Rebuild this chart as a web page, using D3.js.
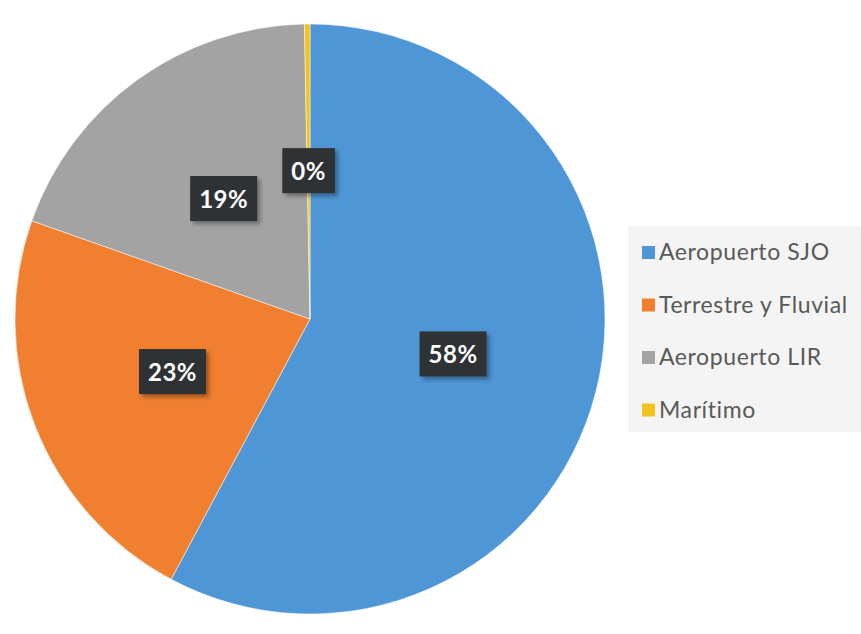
<!DOCTYPE html>
<html><head><meta charset="utf-8">
<script src="https://cdn.jsdelivr.net/npm/d3@7"></script>
<style>body{margin:0;background:#fff;}svg{display:block;}</style>
</head><body>
<svg id="c" width="861" height="634"></svg>
<script>
const categories = ["Aeropuerto SJO", "Terrestre y Fluvial", "Aeropuerto LIR", "Marítimo"];
const values = [57.8, 22.6, 19.3, 0.3];
const labels = ["58%", "23%", "19%", "0%"];
const colors = ["#4f96d6", "#f0802f", "#a3a3a3", "#f2c31c"];

const svg = d3.select("#c");
const defs = svg.append("defs");
const f = defs.append("filter").attr("id","sh").attr("x","-20%").attr("y","-20%").attr("width","150%").attr("height","150%");
f.append("feDropShadow").attr("dx",3).attr("dy",3).attr("stdDeviation",2).attr("flood-color","#000").attr("flood-opacity",0.35);

const cx = 310, cy = 319, R = 295;
const data = categories.map((c,i)=>({cat:c, v:values[i], lab:labels[i], col:colors[i]}));
const pie = d3.pie().value(d=>d.v).sort(null);
const arc = d3.arc().innerRadius(0).outerRadius(R);
const labelArc = d3.arc().innerRadius(0).outerRadius(R);
const g = svg.append("g").attr("transform",`translate(${cx},${cy})`);
const arcs = pie(data);
g.selectAll("path").data(arcs).join("path")
  .attr("d",arc).attr("fill",d=>d.data.col)
  .attr("stroke","#fff").attr("stroke-width",0.5);

const lg = g.selectAll("g.lab").data(arcs).join("g").attr("class","lab")
  .attr("transform",d=>{const [x,y]=labelArc.centroid(d);return `translate(${x},${y})`;});
lg.each(function(d){
  const s = d3.select(this);
  const t = s.append("text").attr("text-anchor","middle").attr("dy","0.36em")
    .attr("font-family","Lato, 'Open Sans', sans-serif").attr("font-weight","bold")
    .attr("font-size",24).attr("letter-spacing",0.5).attr("fill","#fff").text(d.data.lab);
  const bb = t.node().getBBox();
  const padX = 9, padY = 9;
  s.insert("rect","text").attr("x",bb.x-padX).attr("y",bb.y-padY+1)
    .attr("width",bb.width+2*padX).attr("height",bb.height+2*padY-2)
    .attr("fill","#2f3134").attr("filter","url(#sh)");
});

// legend
const leg = svg.append("g");
leg.append("rect").attr("x",628).attr("y",226).attr("width",233).attr("height",206).attr("fill","#f4f4f4");
const items = leg.selectAll("g.it").data(data).join("g").attr("class","it")
  .attr("transform",(d,i)=>`translate(642,${252+i*52.5})`);
items.append("rect").attr("x",0).attr("y",-6).attr("width",13).attr("height",13).attr("fill",d=>d.col);
items.append("text").attr("x",17).attr("y",0).attr("dy","0.35em")
  .attr("font-family","Lato, 'Open Sans', sans-serif").attr("font-size",23).attr("letter-spacing",0.6).attr("fill","#595959")
  .text(d=>d.cat);
</script>
</body></html>
